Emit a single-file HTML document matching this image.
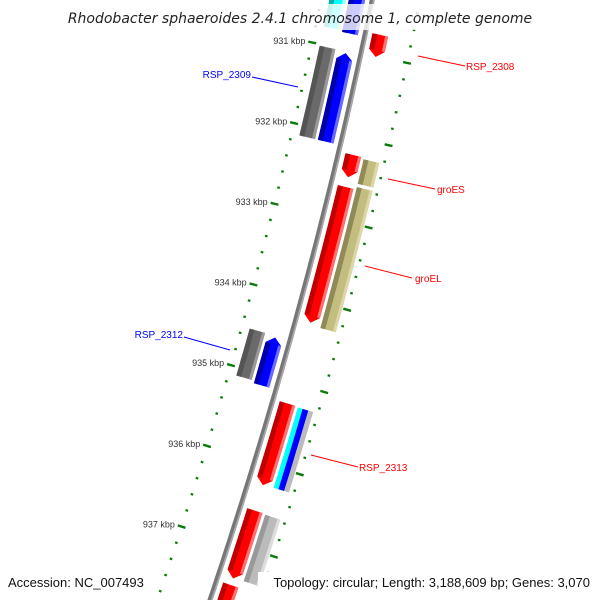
<!DOCTYPE html>
<html><head><meta charset="utf-8"><style>
html,body{margin:0;padding:0;background:#fff;overflow:hidden;width:600px;height:600px}
svg{display:block;font-family:"Liberation Sans","DejaVu Sans",sans-serif}
</style></head><body>
<svg id="chart" width="600" height="600" viewBox="0 0 600 600">
<g id="ticks"></g>
<g id="genes"></g>
<g id="backbone-g"></g>
<rect x="0" y="4" width="600" height="26" fill="#fff" opacity="0.8"/>
<text x="300" y="23" text-anchor="middle" font-size="14" font-style="italic" fill="#222" style="font-family:'DejaVu Sans',sans-serif">Rhodobacter sphaeroides 2.4.1 chromosome 1, complete genome</text>
<g id="labels"></g>
<rect x="4" y="572" width="146" height="20" fill="#fff"/>
<text x="8" y="587" font-size="13" fill="#111">Accession: NC_007493</text>
<rect x="258" y="572" width="338" height="20" fill="#fff"/>
<text x="590" y="587" font-size="13" fill="#111" text-anchor="end">Topology: circular; Length: 3,188,609 bp; Genes: 3,070</text>
</svg>
<script>
// data
const majorTicks = [931, 932, 933, 934, 935, 936, 937];
const tickLabels = ["931 kbp","932 kbp","933 kbp","934 kbp","935 kbp","936 kbp","937 kbp"];
const geneNames = ["cyan-top","blue-top","RSP_2308","gray-2309","RSP_2309","groES","khaki-groES","groEL","khaki-groEL","gray-2312","RSP_2312","RSP_2313","cyan-2313","blue-2313","gray-2313","red-937","gray-937","red-938"];
const geneStart = [930.25,930.25,930.74,931.02,931.04,932.21,932.23,932.6,932.57,934.52,934.54,935.25,935.26,935.26,935.26,936.56,936.57,937.47];
const geneEnd   = [930.78,930.8,931.01,932.13,932.13,932.48,932.53,934.26,934.29,935.1,935.13,936.25,936.24,936.24,936.24,937.39,937.38,937.95];
const geneTrack = ["o-","i-","i+","o-","i-","i+","o+","i+","o+","o-","i-","i+","c1","c2","c3","i+","o+","i+"];
const geneStrand= [0,-1,1,0,-1,1,0,1,0,0,-1,1,0,0,0,1,0,1];
const geneColor = ["cyan","blue","red","gray","blue","red","khaki","red","khaki","gray","blue","red","cyan","blue","lgray","red","lgray","red"];

const NS="http://www.w3.org/2000/svg";
const palette={red:["#c00000","#ff0000","#ff7070"],blue:["#0000a8","#0000ff","#6a6aff"],gray:["#555","#6a6a6a","#999"],
 khaki:["#8f8a58","#c4bd80","#ddd7a8"],cyan:["#00b0b0","#00ffff","#9ff"],lgray:["#999","#bbb","#ddd"]};
const tracks={"i+":[7,23],"o+":[26,42],"i-":[-23,-7],"o-":[-42,-26],"c1":[26,31],"c2":[31,37],"c3":[37,42]};
// axis functions
function y0(p){return 53+(p-931)*81.5;}
function xb(y){return 372.2-0.2039*y-0.0001107*y*y;}
function pt(p,r){const y=y0(p),s=-0.2039-2*0.0001107*y,n=Math.hypot(1,s);return [xb(y)+r/n, y-s*r/n];}
function el(t,a,parent){const e=document.createElementNS(NS,t);for(const k in a)e.setAttribute(k,a[k]);parent.appendChild(e);return e;}
function band(p1,p2,r1,r2){const a=[];for(let i=0;i<=6;i++)a.push(pt(p1+(p2-p1)*i/6,r1));for(let i=6;i>=0;i--)a.push(pt(p1+(p2-p1)*i/6,r2));return a.map(q=>q[0].toFixed(1)+","+q[1].toFixed(1)).join(" ");}

// backbone
const bb=document.getElementById("backbone-g");
let d="";for(let p=929.9;p<=938.2;p+=0.1){const q=pt(p,0);d+=(d?"L":"M")+q[0].toFixed(1)+" "+q[1].toFixed(1);}
const b1=el("path",{d:d,stroke:"#777",fill:"none","stroke-width":5},bb);


const b2=el("path",{d:d,stroke:"#aaa",fill:"none","stroke-width":1.5,transform:"translate(1.5,0.4)"},bb);



// ticks
const tg=document.getElementById("ticks");
for(let k=9300;k<=9382;k+=2){const p=k/10;const major=(k%10===0);
 [-50,47].forEach(r=>{const h=major?4:1.3;const a=pt(p,r-h),b=pt(p,r+h);
  const t=el("line",{x1:a[0],y1:a[1],x2:b[0],y2:b[1],stroke:"#0a7a0a","stroke-width":major?2.4:2.2},tg);
  
  });}
majorTicks.forEach((p,i)=>{const q=pt(p,-57);
 const t=el("text",{x:q[0].toFixed(1),y:(q[1]+3).toFixed(1),"text-anchor":"end","font-size":9,fill:"#333"},tg);
 t.textContent=tickLabels[i];
 
 });

// genes
const gg=document.getElementById("genes");
geneNames.forEach((nm,i)=>{
 const g=el("g",{},gg);
 
 
 const [r1,r2]=tracks[geneTrack[i]];const c=palette[geneColor[i]];
 let p1=geneStart[i],p2=geneEnd[i];const ah=0.08,st=geneStrand[i];
 const thin=(r2-r1)<10;
 const rm=(r1+r2)/2;
 let pts;
 if(st===1){
  const a=[];for(let j=0;j<=6;j++)a.push(pt(p1+(p2-ah-p1)*j/6,r1));a.push(pt(p2,rm));for(let j=6;j>=0;j--)a.push(pt(p1+(p2-ah-p1)*j/6,r2));
  pts=a.map(q=>q[0].toFixed(1)+","+q[1].toFixed(1)).join(" ");}
 else if(st===-1){const a=[];a.push(pt(p1,rm));for(let j=0;j<=6;j++)a.push(pt(p1+ah+(p2-p1-ah)*j/6,r1));for(let j=6;j>=0;j--)a.push(pt(p1+ah+(p2-p1-ah)*j/6,r2));
  pts=a.map(q=>q[0].toFixed(1)+","+q[1].toFixed(1)).join(" ");}
 else pts=band(p1,p2,r1,r2);
 el("polygon",{points:pts,fill:c[1]},g);
 if(!thin){
  const q1=st===-1?p1+ah:p1,q2=st===1?p2-ah:p2;
  el("polygon",{points:band(q1,q2,r1,r1+5),fill:c[0]},g);
  el("polygon",{points:band(q1,q2,r2-3,r2),fill:c[2]},g);
 }
});

// labels
const lg=document.getElementById("labels");
const labelText=["RSP_2308","RSP_2309","groES","groEL","RSP_2312","RSP_2313"];
const labelColor=["#f00","#00f","#f00","#f00","#00f","#f00"];
const labelX=[466,251,437,415,183,359];
const labelY=[70,78,193,282,338,471];
const labelAnchor=["start","end","start","start","end","start"];
const lineFrom=[[418,56],[298,87],[388,179],[365,266],[230,350],[311,455]];
const lineTo=[[465,66],[252,77],[435,189],[412,278],[184,337],[358,467]];
labelText.forEach((t,i)=>{
 const l=el("line",{x1:lineFrom[i][0],y1:lineFrom[i][1],x2:lineTo[i][0],y2:lineTo[i][1],stroke:labelColor[i],"stroke-width":1},lg);
 
 
 const tx=el("text",{x:labelX[i],y:labelY[i],"text-anchor":labelAnchor[i],"font-size":10,fill:labelColor[i]},lg);
 tx.textContent=t;
 
 
});
</script>
</body></html>
